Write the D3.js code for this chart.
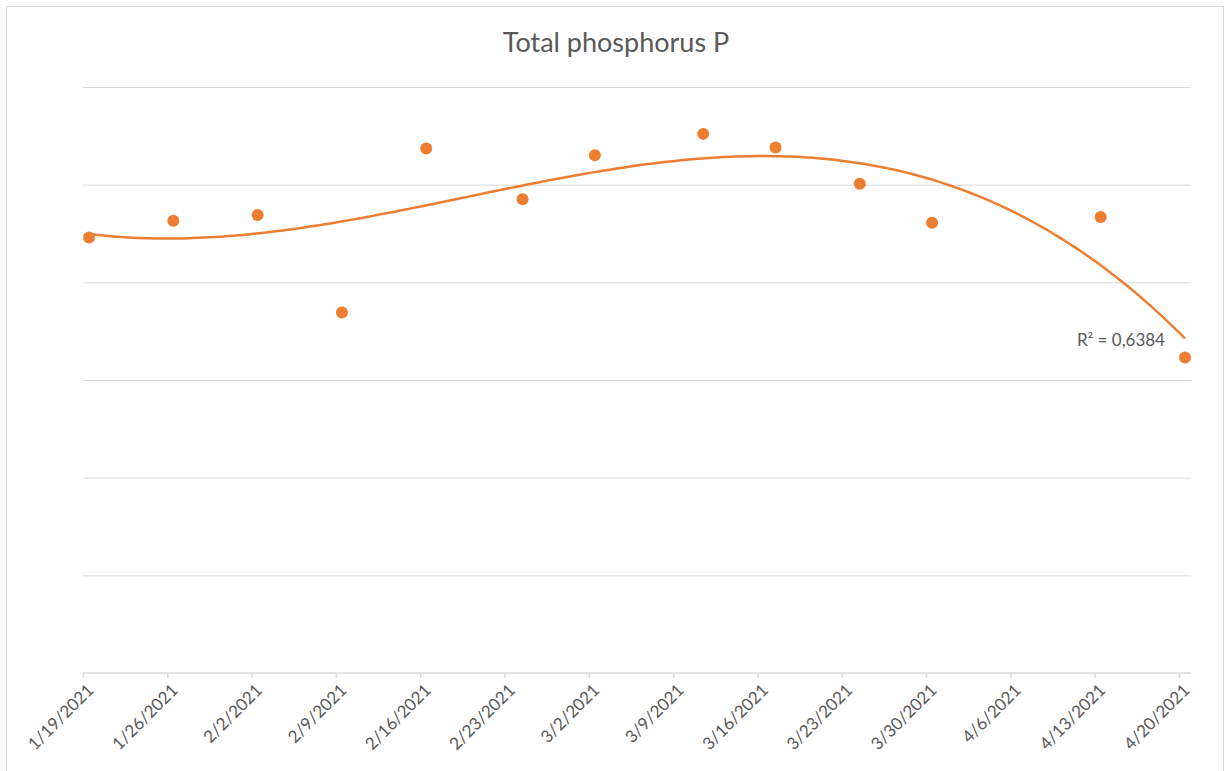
<!DOCTYPE html>
<html>
<head>
<meta charset="utf-8">
<script src="https://cdn.jsdelivr.net/npm/d3@7"></script>
<style>
  html, body { margin: 0; padding: 0; background: #fff; }
  svg { display: block; }
</style>
</head>
<body>
<div id="graph"></div>
<script>
// Sampling dates (taken around noon) and measured total phosphorus values
const sampleDates = [
  "2021-01-19T12:00", "2021-01-26T12:00", "2021-02-02T12:00", "2021-02-09T12:00",
  "2021-02-16T12:00", "2021-02-24T12:00", "2021-03-02T12:00", "2021-03-11T12:00",
  "2021-03-17T12:00", "2021-03-24T12:00", "2021-03-30T12:00", "2021-04-13T12:00",
  "2021-04-20T12:00",
];
const phosphorus = [
  0.446, 0.463, 0.469, 0.369, 0.537, 0.485, 0.530, 0.552, 0.538, 0.501, 0.461,
  0.467, 0.323,
];

// Axis ticks
const xTickLabels = [
  "1/19/2021", "1/26/2021", "2/2/2021", "2/9/2021", "2/16/2021", "2/23/2021",
  "3/2/2021", "3/9/2021", "3/16/2021", "3/23/2021", "3/30/2021", "4/6/2021",
  "4/13/2021", "4/20/2021",
];
const xDomain = ["1/19/2021", "4/21/2021"];
const yTicks = [0, 0.1, 0.2, 0.3, 0.4, 0.5, 0.6];

const title = "Total phosphorus P";
const rSquaredLabel = "R² = 0,6384";
const trendOrder = 3;

///////////////////////////////////////////////////////////////////////////////

const width = 1225;
const height = 771;
const plot = { left: 83, right: 1191, top: 87, bottom: 673 };
const orange = "#ED7D31";
const textColor = "#595959";
const gridColor = "#d9d9d9";
const fontFamily = "Lato, 'Open Sans', sans-serif";

const parseTick = d3.timeParse("%m/%d/%Y");
const points = sampleDates.map((d, i) => ({ date: new Date(d), value: phosphorus[i] }));

const x = d3.scaleTime()
  .domain(xDomain.map(parseTick))
  .range([plot.left, plot.right]);
const y = d3.scaleLinear()
  .domain(d3.extent(yTicks))
  .range([plot.bottom, plot.top]);

/**
 * Least squares polynomial fit (like Excel's polynomial trendline).
 * x is measured in days from the first sample to keep the system sane.
 */
function polyFit(xs, ys, order) {
  const n = order + 1;
  const A = Array.from({ length: n }, () => new Array(n + 1).fill(0));
  xs.forEach((xv, k) => {
    for (let i = 0; i < n; i++) {
      for (let j = 0; j < n; j++) A[i][j] += Math.pow(xv, i + j);
      A[i][n] += ys[k] * Math.pow(xv, i);
    }
  });
  // Gaussian elimination with partial pivoting
  for (let c = 0; c < n; c++) {
    let p = c;
    for (let r = c + 1; r < n; r++) if (Math.abs(A[r][c]) > Math.abs(A[p][c])) p = r;
    [A[c], A[p]] = [A[p], A[c]];
    for (let r = c + 1; r < n; r++) {
      const f = A[r][c] / A[c][c];
      for (let k = c; k <= n; k++) A[r][k] -= f * A[c][k];
    }
  }
  const coef = new Array(n).fill(0);
  for (let r = n - 1; r >= 0; r--) {
    let s = A[r][n];
    for (let k = r + 1; k < n; k++) s -= A[r][k] * coef[k];
    coef[r] = s / A[r][r];
  }
  return xv => coef.reduce((acc, c, i) => acc + c * Math.pow(xv, i), 0);
}

const t0 = points[0].date.getTime();
const dayOf = d => (d.getTime() - t0) / 864e5;
const fit = polyFit(points.map(p => dayOf(p.date)), points.map(p => p.value), trendOrder);

const svg = d3.select("#graph")
  .append("svg")
  .attr("width", width)
  .attr("height", height)
  .style("font-family", fontFamily);

// Chart frame
svg.append("rect")
  .attr("x", 6.5)
  .attr("y", 6.5)
  .attr("width", 1217)
  .attr("height", 780)
  .attr("fill", "#fff")
  .attr("stroke", gridColor)
  .attr("stroke-width", 1);

// Title
svg.append("text")
  .attr("x", 616)
  .attr("y", 52)
  .attr("text-anchor", "middle")
  .attr("fill", textColor)
  .style("font-size", "27px")
  .text(title);

// Horizontal gridlines (no value labels, as in the original)
svg.append("g")
  .attr("transform", `translate(${plot.left},0)`)
  .call(d3.axisLeft(y).tickValues(yTicks.slice(1)).tickSize(-(plot.right - plot.left)).tickFormat(""))
  .call(g => g.select(".domain").remove())
  .call(g => g.selectAll(".tick line").attr("stroke", gridColor).attr("stroke-width", 1));

// X axis
const xAxis = svg.append("g")
  .attr("transform", `translate(0,${plot.bottom})`)
  .call(d3.axisBottom(x)
    .tickValues(xTickLabels.map(parseTick))
    .tickSize(5)
    .tickFormat((d, i) => xTickLabels[i]));

xAxis.select(".domain")
  .attr("stroke", gridColor)
  .attr("stroke-width", 1.5)
  .attr("d", `M${plot.left},0H${plot.right}`);
xAxis.selectAll(".tick line").attr("stroke", gridColor).attr("stroke-width", 1.5);
xAxis.selectAll(".tick text")
  .attr("fill", textColor)
  .style("font-size", "17px")
  .style("font-family", fontFamily)
  .attr("text-anchor", "end")
  .attr("x", 0)
  .attr("y", 0)
  .attr("dy", "0.35em")
  .attr("transform", "translate(7,14) rotate(-45)");

// Trendline
const xStart = dayOf(points[0].date);
const xEnd = dayOf(points[points.length - 1].date);
const trend = d3.range(0, 201).map(i => {
  const dv = xStart + (xEnd - xStart) * i / 200;
  return { date: new Date(t0 + dv * 864e5), value: fit(dv) };
});

svg.append("path")
  .datum(trend)
  .attr("fill", "none")
  .attr("stroke", orange)
  .attr("stroke-width", 2.5)
  .attr("d", d3.line().x(d => x(d.date)).y(d => y(d.value)));

// Data points
svg.append("g")
  .selectAll("circle")
  .data(points)
  .join("circle")
  .attr("cx", d => x(d.date))
  .attr("cy", d => y(d.value))
  .attr("r", 6)
  .attr("fill", orange);

// R² label next to the end of the trendline
const last = trend[trend.length - 1];
svg.append("text")
  .attr("x", x(last.date) - 20)
  .attr("y", y(last.value) + 8)
  .attr("text-anchor", "end")
  .attr("fill", textColor)
  .style("font-size", "17px")
  .text(rSquaredLabel);
</script>
</body>
</html>
